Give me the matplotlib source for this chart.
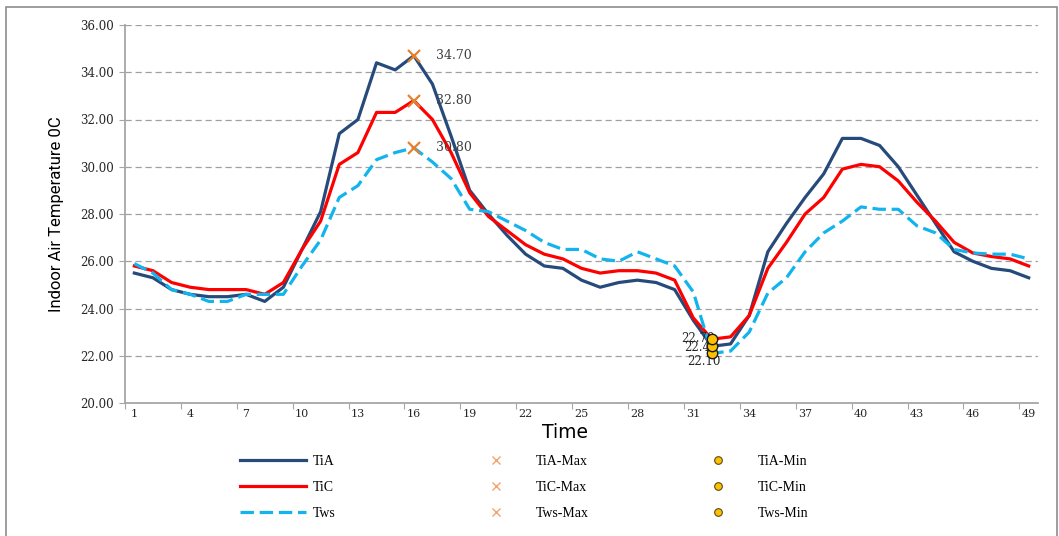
import numpy as np
import matplotlib
matplotlib.use("Agg")
import matplotlib.pyplot as plt
from matplotlib.lines import Line2D
from matplotlib.patches import Rectangle
from matplotlib import font_manager

# half-hourly readings, time steps 1..49
time = np.arange(1, 50)
tia = [25.5, 25.3, 24.8, 24.6, 24.5, 24.5, 24.6, 24.3, 24.9, 26.5,
       28.1, 31.4, 32.0, 34.4, 34.1, 34.7, 33.5, 31.3, 29.0, 28.0,
       27.1, 26.3, 25.8, 25.7, 25.2, 24.9, 25.1, 25.2, 25.1, 24.8,
       23.5, 22.4, 22.5, 23.7, 26.4, 27.6, 28.7, 29.7, 31.2, 31.2,
       30.9, 30.0, 28.8, 27.6, 26.4, 26.0, 25.7, 25.6, 25.3]
tic = [25.8, 25.6, 25.1, 24.9, 24.8, 24.8, 24.8, 24.6, 25.1, 26.5,
       27.7, 30.1, 30.6, 32.3, 32.3, 32.8, 32.0, 30.6, 28.9, 27.9,
       27.3, 26.7, 26.3, 26.1, 25.7, 25.5, 25.6, 25.6, 25.5, 25.2,
       23.6, 22.7, 22.8, 23.7, 25.7, 26.8, 28.0, 28.7, 29.9, 30.1,
       30.0, 29.4, 28.5, 27.7, 26.8, 26.35, 26.2, 26.1, 25.8]
tws = [25.9, 25.5, 24.8, 24.6, 24.3, 24.3, 24.6, 24.6, 24.6, 25.8,
       26.9, 28.7, 29.2, 30.3, 30.6, 30.8, 30.2, 29.5, 28.2, 28.1,
       27.7, 27.3, 26.8, 26.5, 26.5, 26.1, 26.0, 26.4, 26.1, 25.8,
       24.7, 22.1, 22.2, 23.0, 24.65, 25.3, 26.4, 27.2, 27.7, 28.3,
       28.2, 28.2, 27.5, 27.2, 26.5, 26.35, 26.3, 26.3, 26.1]
series_names = ["TiA", "TiC", "Tws"]
y_ticks = [20, 22, 24, 26, 28, 30, 32, 34, 36]
x_labels = list(range(1, 50, 3))

W, H = 1059, 536
fig = plt.figure(figsize=(W / 100, H / 100), dpi=100)

def fx(px):
    return px / W

def fy(py):
    return 1 - py / H

# pick a narrow sans for the axis title if one is around
installed = {f.name for f in font_manager.fontManager.ttflist}
narrow = [f for f in ["Liberation Sans Narrow", "DejaVu Sans Condensed", "Roboto"]
          if f in installed] or ["DejaVu Sans"]

# outer chart frame
fig.patches.append(Rectangle((fx(6), fy(560)), fx(1057) - fx(6), fy(7) - fy(560),
                             transform=fig.transFigure, fill=False,
                             edgecolor="#8c8c8c", lw=1.2))

ax = fig.add_axes([fx(125), fy(403), fx(1038) - fx(125), fy(25) - fy(403)])

colors = ["#264a7a", "#ff0000", "#12b4ee"]
styles = ["-", "-", (0, (4.2, 1.8))]
data = [tia, tic, tws]
for vals, c, ls in zip(data, colors, styles):
    ax.plot(time, vals, color=c, lw=2.3, ls=ls, zorder=3)

# max / min markers
max_col = "#e3812f"
min_col = "#ffc000"
for vals in data:
    i = int(np.argmax(vals))
    ax.plot(time[i], vals[i], ls="none", marker="x", ms=9, mew=1.6,
            color=max_col, zorder=5)
    ax.annotate("%.2f" % vals[i], (time[i], vals[i]), xytext=(16, 0),
                textcoords="offset points", va="center", ha="left",
                fontsize=9, family="DejaVu Serif", color="#404040", zorder=6)

min_offsets = [(-22, 0.5), (-20, -1), (-18, -6)]
for k, vals in enumerate([tic, tia, tws]):
    i = int(np.argmin(vals))
    dx, dy = min_offsets[k]
    ax.annotate("%.2f" % vals[i], (time[i], vals[i]), xytext=(dx, dy),
                textcoords="offset points", va="center", ha="left",
                fontsize=8.5, family="DejaVu Serif", color="#262626", zorder=4)
for vals in [tws, tia, tic]:
    i = int(np.argmin(vals))
    ax.plot(time[i], vals[i], ls="none", marker="o", ms=7.5, mfc=min_col,
            mec="#1a1a1a", mew=1, zorder=5)

ax.set_xlim(0.5, 49.5)
ax.set_ylim(20, 36)
ax.set_yticks(y_ticks)
ax.set_yticklabels(["%.2f" % v for v in y_ticks], family="DejaVu Serif",
                   fontsize=8.5, color="#262626")
ax.set_xticks(np.arange(0.5, 49, 3))
ax.set_xticklabels([])
ax.set_xticks(x_labels, minor=True)
ax.set_xticklabels([str(v) for v in x_labels], minor=True,
                   family="DejaVu Serif", fontsize=8, color="#262626")
ax.tick_params(axis="x", which="minor", length=0, pad=4)
ax.tick_params(axis="x", which="major", length=4, color="#a6a6a6")
ax.tick_params(axis="y", length=4, color="#a6a6a6", pad=4)

ax.grid(axis="y", color="#a0a0a0", ls=(0, (5, 3)), lw=0.9, zorder=0)
for s in ["top", "right"]:
    ax.spines[s].set_visible(False)
for s in ["left", "bottom"]:
    ax.spines[s].set_color("#a6a6a6")
    ax.spines[s].set_linewidth(1.3)

fig.text(fx(57), fy(214), "Indoor Air Temperature 0C", rotation=90,
         ha="center", va="center", fontsize=12, family=narrow + ["DejaVu Sans"],
         color="#000000")
fig.text(fx(565), fy(432), "Time", ha="center", va="center", fontsize=13.5,
         family="DejaVu Sans", color="#000000")

# legend in three separate columns
line_handles = [Line2D([], [], color=c, lw=2.3, ls=ls) for c, ls in zip(colors, styles)]
max_handles = [Line2D([], [], ls="none", marker="x", ms=6, mew=1, color="#f2a46c")
               for _ in series_names]
min_handles = [Line2D([], [], ls="none", marker="o", ms=5.5, mfc=min_col,
                      mec="#5a4a1a", mew=0.8) for _ in series_names]
groups = [(line_handles, series_names, 240),
          (max_handles, [n + "-Max" for n in series_names], 463),
          (min_handles, [n + "-Min" for n in series_names], 685)]
for handles, labels, x0 in groups:
    fig.legend(handles, labels, loc="center left",
               bbox_to_anchor=(fx(x0), fy(487.5)), frameon=False,
               borderpad=0, borderaxespad=0, handlelength=4.75,
               handletextpad=0.5, labelspacing=0.95,
               prop={"family": "Liberation Serif", "size": 10})

fig.savefig("out.png", dpi=100)
